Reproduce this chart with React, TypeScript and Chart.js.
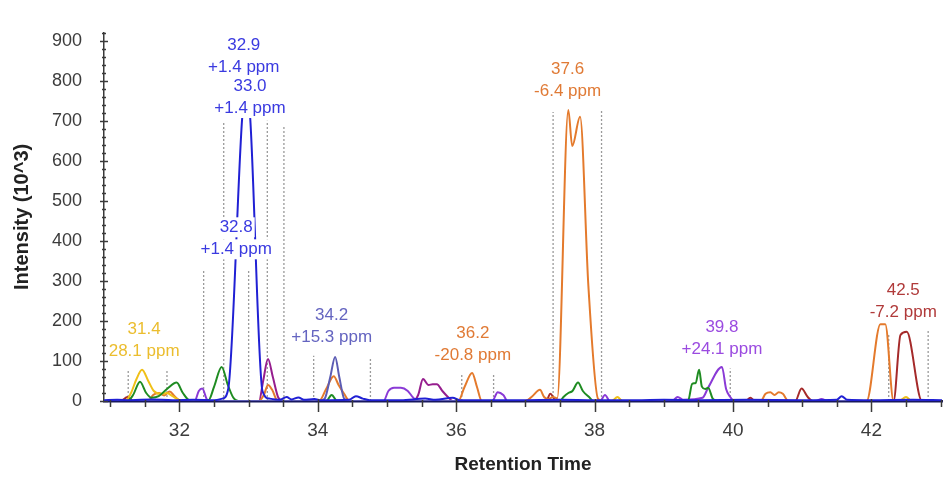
import { useEffect, useRef } from "react";
import { Chart, registerables } from "chart.js";

Chart.register(...registerables);

type Pt = [number, number];

// ---- axis ranges / ticks ----
const xMin = 30.91;
const xMax = 43.02;
const yMin = 0;
const yMax = 920;
const xMajorStep = 2;
const xMinorStep = 0.5;
const yMajorStep = 100;
const yMinorStep = 20;

// ---- traces (retention time, intensity x10^3) ----
const blueTrace: Pt[] = [
  [30.91, 2], [31.1, 3], [31.3, 2], [31.6, 4], [31.9, 2], [32.2, 3], [32.5, 2], [32.62, 6],
  [32.705, 30], [32.91, 715], [32.94, 750], [32.99, 750], [33.02, 715], [33.2, 25], [33.3, 6],
  [33.45, 3], [33.55, 10], [33.62, 4], [33.72, 9], [33.8, 3], [33.95, 5], [34.05, 2], [34.45, 3],
  [34.55, 12], [34.65, 6], [34.75, 2], [35.2, 2], [35.55, 6], [35.7, 3], [35.95, 8], [36.05, 2],
  [36.9, 2], [37.5, 3], [38.0, 2], [38.6, 2], [39.0, 3], [39.5, 2], [40.2, 3], [41.0, 2],
  [41.5, 3], [41.57, 12], [41.65, 3], [42.0, 2], [42.6, 3], [43.02, 2],
];

const slateTrace: Pt[] = [
  [30.91, 0], [34.02, 0], [34.1, 6], [34.18, 60], [34.25, 110], [34.31, 60], [34.38, 6], [34.46, 0], [43.02, 0],
];

const greenTrace: Pt[] = [
  [30.91, 0], [31.25, 0], [31.33, 15], [31.43, 48], [31.52, 20], [31.6, 8], [31.7, 12], [31.82, 30],
  [31.96, 46], [32.05, 20], [32.15, 2], [32.42, 2], [32.5, 35], [32.61, 85], [32.7, 40], [32.78, 8],
  [32.85, 0], [34.12, 0], [34.2, 15], [34.28, 0], [37.5, 0], [37.55, 10], [37.62, 20], [37.68, 25],
  [37.76, 46], [37.83, 25], [37.92, 10], [37.98, 0], [39.35, 0], [39.41, 43], [39.46, 45], [39.51, 78],
  [39.55, 36], [39.6, 30], [39.64, 33], [39.71, 5], [39.78, 0], [43.02, 0],
];

const yellowTrace: Pt[] = [
  [30.91, 0], [31.22, 0], [31.3, 20], [31.38, 55], [31.46, 78], [31.55, 50], [31.63, 25], [31.72, 18],
  [31.82, 20], [31.9, 12], [32.0, 2], [32.1, 0], [38.25, 0], [38.33, 10], [38.4, 0], [42.4, 0],
  [42.5, 10], [42.58, 0], [43.02, 0],
];

const orangeTrace: Pt[] = [
  [30.91, 0], [31.55, 0], [31.62, 15], [31.7, 20], [31.78, 14], [31.86, 24], [31.93, 12], [32.02, 0],
  [33.15, 0], [33.22, 15], [33.28, 40], [33.34, 28], [33.42, 0], [34.02, 0], [34.12, 30], [34.23, 62],
  [34.3, 40], [34.38, 18], [34.46, 0], [36.03, 0], [36.12, 35], [36.23, 70], [36.3, 35], [36.37, 0],
  [37.0, 0], [37.1, 12], [37.21, 28], [37.27, 10], [37.33, 5], [37.4, 10], [37.46, 7], [37.62, 727],
  [37.676, 637], [37.79, 710], [37.91, 287], [38.05, 5], [38.12, 0], [40.4, 0], [40.47, 18],
  [40.54, 22], [40.6, 15], [40.66, 22], [40.72, 18], [40.8, 0], [41.93, 0], [42.13, 192], [42.2, 192],
  [42.32, 0], [43.02, 0],
];

const magentaTrace: Pt[] = [
  [30.91, 0], [33.15, 0], [33.21, 50], [33.28, 105], [33.35, 60], [33.43, 8], [33.5, 0], [35.38, 0],
  [35.45, 15], [35.52, 55], [35.6, 40], [35.66, 42], [35.72, 42], [35.8, 25], [35.88, 10], [35.95, 0],
  [43.02, 0],
];

const violetTrace: Pt[] = [
  [30.91, 0], [32.22, 0], [32.28, 25], [32.33, 31], [32.4, 3], [32.45, 0], [34.95, 0], [35.02, 25],
  [35.1, 33], [35.2, 33], [35.3, 25], [35.38, 8], [35.45, 0], [36.52, 0], [36.6, 22], [36.68, 15],
  [36.74, 0], [38.08, 0], [38.15, 15], [38.22, 0], [39.12, 0], [39.2, 10], [39.28, 3], [39.56, 8],
  [39.64, 33], [39.84, 85], [39.9, 30], [39.96, 10], [40.02, 0], [41.2, 0], [41.28, 5], [41.36, 0],
  [43.02, 0],
];

const redTrace: Pt[] = [
  [30.91, 0], [31.15, 0], [31.25, 10], [31.33, 0], [37.3, 0], [37.36, 18], [37.42, 5], [37.46, 0],
  [40.18, 0], [40.25, 8], [40.32, 0], [40.9, 0], [40.99, 31], [41.08, 10], [41.15, 0], [42.32, 0],
  [42.42, 165], [42.51, 173], [42.73, 0], [43.02, 0],
];

const traceNames = ["blue", "slate", "green", "yellow", "orange", "magenta", "violet", "red"];
const traceData = [blueTrace, slateTrace, greenTrace, yellowTrace, orangeTrace, magentaTrace, violetTrace, redTrace];
const traceColors = ["#2020d4", "#5c5cb4", "#1f8c22", "#f0c018", "#e47a2c", "#961e8e", "#8a3ad6", "#a52a2a"];

// ---- integration boundaries (dotted) ----
const boundaryX = [31.26, 31.82, 32.35, 32.64, 33.0, 33.27, 33.51, 33.94, 34.76, 36.08, 36.54, 37.4, 38.1, 39.96, 42.25, 42.82];
const boundaryTop = [78, 80, 328, 698, 328, 700, 686, 113, 110, 69, 69, 722, 727, 81, 168, 176];

// ---- peak annotations ----
const peakRT = ["31.4", "32.9", "33.0", "32.8", "34.2", "36.2", "37.6", "39.8", "42.5"];
const peakPpm = ["28.1 ppm", "+1.4 ppm", "+1.4 ppm", "+1.4 ppm", "+15.3 ppm", "-20.8 ppm", "-6.4 ppm", "+24.1 ppm", "-7.2 ppm"];
const peakLabelX = [31.49, 32.93, 33.02, 32.82, 34.2, 36.24, 37.61, 39.84, 42.46];
const peakLabelY = [180, 889, 787, 434, 213, 168, 830, 183, 277];
const peakLabelColor = ["#ebbd2e", "#3a3ae0", "#3a3ae0", "#3a3ae0", "#6464c0", "#e07a35", "#e07a35", "#9b4be0", "#b03a3a"];

const FONT = '"Liberation Sans", Arial, sans-serif';

const decorPlugin = {
  id: "decor",
  afterDatasetsDraw(chart: any) {
    const { ctx, scales } = chart;
    const x = scales.x;
    const y = scales.y;
    ctx.save();
    ctx.font = `17px ${FONT}`;
    ctx.textAlign = "center";
    ctx.textBaseline = "middle";
    for (let i = 0; i < peakRT.length; i++) {
      const px = x.getPixelForValue(peakLabelX[i]);
      const py = y.getPixelForValue(peakLabelY[i]);
      [peakRT[i], peakPpm[i]].forEach((t, j) => {
        const w = ctx.measureText(t).width;
        const cy = py + j * 22;
        ctx.fillStyle = "#ffffff";
        ctx.fillRect(px - w / 2 - 2, cy - 10, w + 4, 20);
        ctx.fillStyle = peakLabelColor[i];
        ctx.fillText(t, px, cy);
      });
    }
    ctx.restore();
  },
  afterDraw(chart: any) {
    const { ctx, scales, chartArea } = chart;
    const x = scales.x;
    const y = scales.y;
    ctx.save();
    ctx.strokeStyle = "#3a3a3a";
    ctx.lineWidth = 1.5;
    const ax = chartArea.left;
    for (let v = yMin; v <= yMax + 1e-6; v += yMinorStep) {
      const py = Math.round(y.getPixelForValue(v)) + 0.5;
      const h = v % yMajorStep === 0 ? 4 : 2;
      ctx.beginPath();
      ctx.moveTo(ax - h, py);
      ctx.lineTo(ax + h, py);
      ctx.stroke();
    }
    const ay = chartArea.bottom;
    for (let v = 31; v <= xMax + 1e-6; v += xMinorStep) {
      const px = Math.round(x.getPixelForValue(v)) + 0.5;
      const major = Math.abs(v % xMajorStep) < 1e-6;
      ctx.beginPath();
      ctx.moveTo(px, ay - (major ? 2 : 1));
      ctx.lineTo(px, ay + (major ? 11 : 6));
      ctx.stroke();
    }
    ctx.restore();
  },
};

export default function App() {
  const ref = useRef<HTMLCanvasElement | null>(null);

  useEffect(() => {
    if (!ref.current) return;
    const boundarySets = boundaryX.map((bx, i) => ({
      label: `b${i}`,
      data: [
        { x: bx, y: 0 },
        { x: bx, y: boundaryTop[i] },
      ],
      borderColor: "#9a9a9a",
      borderWidth: 1.3,
      borderDash: [2, 2],
      pointRadius: 0,
      order: 100,
    }));
    const traceSets = traceData.map((d, i) => ({
      label: traceNames[i],
      data: d.map(([px, py]) => ({ x: px, y: py })),
      borderColor: traceColors[i],
      borderWidth: 2,
      pointRadius: 0,
      cubicInterpolationMode: "monotone" as const,
      order: i === 0 ? 1 : 10 + i,
    }));

    const chart = new Chart(ref.current, {
      type: "line",
      data: { datasets: [...boundarySets, ...traceSets] as any },
      plugins: [decorPlugin],
      options: {
        animation: false,
        responsive: false,
        parsing: true,
        layout: { padding: { left: 0, right: 6, top: 13, bottom: 0 } },
        plugins: { legend: { display: false }, tooltip: { enabled: false } },
        scales: {
          x: {
            type: "linear",
            min: xMin,
            max: xMax,
            afterFit: (s: any) => {
              s.height = 85;
            },
            grid: { display: true, drawOnChartArea: false, drawTicks: false },
            border: { display: true, color: "#18185e", width: 2.5 },
            ticks: {
              stepSize: xMajorStep,
              includeBounds: false,
              padding: 18,
              color: "#3c3c3c",
              font: { family: FONT, size: 19 },
              callback: (v: any) => (Number(v) % xMajorStep === 0 ? String(v) : ""),
            },
            title: {
              display: true,
              text: "Retention Time",
              color: "#222",
              font: { family: FONT, size: 19, weight: "bold" },
              padding: { top: 0, bottom: 10 },
            },
          },
          y: {
            type: "linear",
            min: yMin,
            max: yMax,
            afterFit: (s: any) => {
              s.width = 104;
            },
            grid: { display: true, drawOnChartArea: false, drawTicks: false },
            border: { display: true, color: "#3a3a3a", width: 1.5 },
            ticks: {
              stepSize: yMajorStep,
              includeBounds: false,
              padding: 22,
              color: "#3c3c3c",
              font: { family: FONT, size: 18 },
              callback: (v: any) => (Number(v) % yMajorStep === 0 ? String(v) : ""),
            },
            title: {
              display: true,
              text: "Intensity (10^3)",
              color: "#222",
              font: { family: FONT, size: 20, weight: "bold" },
              padding: { top: 10, bottom: 0 },
            },
          },
        },
      } as any,
    });
    return () => chart.destroy();
  }, []);

  return (
    <div style={{ position: "absolute", left: 0, top: 0, width: 948, height: 486, background: "#fff" }}>
      <canvas ref={ref} width={948} height={486} style={{ width: 948, height: 486, display: "block" }} />
    </div>
  );
}
